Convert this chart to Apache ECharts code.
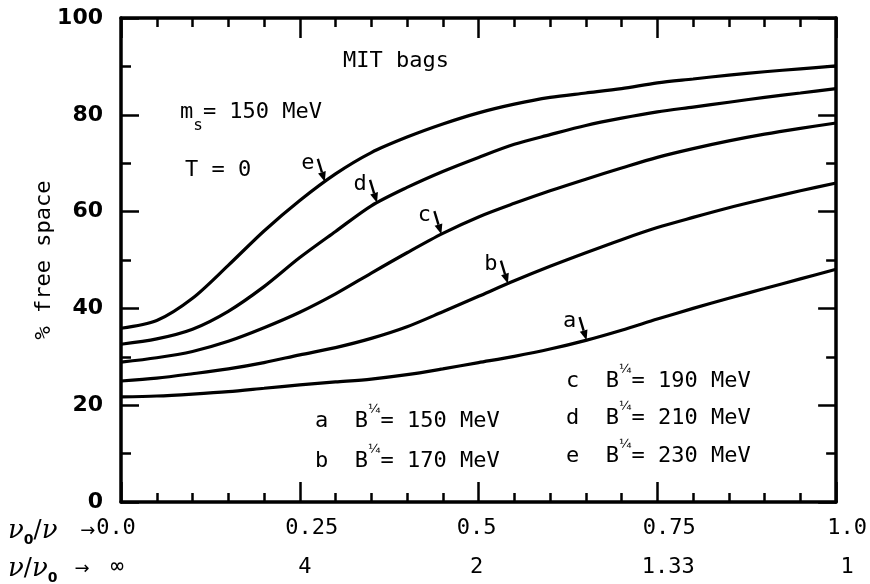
<!DOCTYPE html>
<html>
<head>
<meta charset="utf-8">
<script src="https://cdn.jsdelivr.net/npm/echarts@6/dist/echarts.min.js"></script>
<style>
  html, body { margin: 0; padding: 0; background: #fff; }
  #chart { width: 870px; height: 584px; }
</style>
</head>
<body>
<div id="chart"></div>
<script>
// nu0/nu sampled from 0 to 1
const ratio = [0, 0.05, 0.1, 0.15, 0.2, 0.25, 0.3, 0.35, 0.4, 0.45, 0.5,
               0.55, 0.6, 0.65, 0.7, 0.75, 0.8, 0.85, 0.9, 0.95, 1.0];

// % free space for MIT bags, B^1/4 = 150 .. 230 MeV
const bagA = [21.7, 21.9, 22.3, 22.8, 23.5, 24.2, 24.8, 25.4, 26.3, 27.5, 28.8,
              30.1, 31.6, 33.4, 35.5, 37.8, 40.0, 42.1, 44.1, 46.1, 48.1];
const bagB = [25.0, 25.6, 26.5, 27.5, 28.8, 30.4, 31.9, 33.8, 36.2, 39.3, 42.5,
              45.7, 48.7, 51.5, 54.2, 56.7, 58.8, 60.8, 62.6, 64.3, 65.9];
const bagC = [28.9, 29.8, 31.1, 33.2, 36.0, 39.2, 43.0, 47.3, 51.5, 55.5, 58.9,
              61.7, 64.3, 66.7, 69.0, 71.2, 73.0, 74.6, 76.0, 77.2, 78.3];
const bagD = [32.6, 33.7, 35.7, 39.4, 44.5, 50.5, 55.9, 61.2, 65.0, 68.3, 71.2,
              73.9, 75.9, 77.8, 79.3, 80.6, 81.6, 82.6, 83.6, 84.5, 85.4];
const bagE = [35.9, 37.5, 42.1, 48.9, 56.0, 62.3, 67.8, 72.2, 75.4, 78.1, 80.4,
              82.2, 83.6, 84.5, 85.4, 86.6, 87.4, 88.2, 88.9, 89.5, 90.1];

const curveTags = ['a', 'b', 'c', 'd', 'e'];
const bagConstants = ['150', '170', '190', '210', '230'];
// where each tag arrow touches its curve (nu0/nu)
const tagRatio = [0.651, 0.541, 0.448, 0.358, 0.285];

// bottom axis labels: nu0/nu and nu/nu0
const ratioTicks = [0, 0.25, 0.5, 0.75, 1.0];
const ratioTickLabels = ['0.0', '0.25', '0.5', '0.75', '1.0'];
const inverseTickLabels = ['\u221e', '4', '2', '1.33', '1'];

const curves = [bagA, bagB, bagC, bagD, bagE];

const MONO = '"DejaVu Sans Mono", monospace';
const INK = '#000';

// horizontal nudges of the typed tick labels (px)
const row1Shift = [-5, 12, -2, 12, 11];
const row2Shift = [-4, 5, -2, 11, 11];

function padFor(s) { return s >= 0 ? [0, 0, 0, 2 * s] : [0, -2 * s, 0, 0]; }

const axisRich = {};
ratioTicks.forEach((t, i) => {
  axisRich['p' + i] = { fontFamily: MONO, fontSize: 22, color: INK, lineHeight: 39, padding: padFor(row1Shift[i]) };
  axisRich['q' + i] = { fontFamily: MONO, fontSize: 22, color: INK, lineHeight: 39, padding: padFor(row2Shift[i]) };
});

function tipValue(k) {
  const x = tagRatio[k];
  const ys = curves[k];
  let i = 0;
  while (i < ratio.length - 2 && ratio[i + 1] < x) i++;
  const f = (x - ratio[i]) / (ratio[i + 1] - ratio[i]);
  return ys[i] + f * (ys[i + 1] - ys[i]);
}

const tickLine = { color: INK, width: 2.5 };
const frameLine = { color: INK, width: 3.5 };

function xAxisDef(pos, withLabels) {
  return {
    type: 'value', position: pos, min: 0, max: 1, interval: 0.25,
    axisLine: { show: true, onZero: false, lineStyle: frameLine },
    axisTick: { show: true, inside: true, length: 20, lineStyle: tickLine },
    minorTick: { show: true, splitNumber: 5, length: 9, lineStyle: tickLine },
    splitLine: { show: false }, minorSplitLine: { show: false },
    axisLabel: withLabels ? {
      show: true, margin: 7, verticalAlign: 'top',
      formatter: function (v) {
        const i = ratioTicks.findIndex(t => Math.abs(t - v) < 1e-6);
        if (i < 0) return '';
        return '{p' + i + '|' + ratioTickLabels[i] + '}\n{q' + i + '|' + inverseTickLabels[i] + '}';
      },
      rich: axisRich
    } : { show: false }
  };
}

function yAxisDef(pos, withLabels) {
  const ax = {
    type: 'value', position: pos, min: 0, max: 100, interval: 20,
    axisLine: { show: true, onZero: false, lineStyle: frameLine },
    axisTick: { show: true, inside: true, length: 18, lineStyle: tickLine },
    minorTick: { show: true, splitNumber: 2, length: 10, lineStyle: tickLine },
    splitLine: { show: false }, minorSplitLine: { show: false },
    axisLabel: withLabels ? {
      show: true, margin: 18, color: INK,
      fontFamily: '"DejaVu Sans", sans-serif', fontWeight: 'bold', fontSize: 22
    } : { show: false }
  };
  if (withLabels) {
    ax.name = '% free space';
    ax.nameLocation = 'middle';
    ax.nameRotate = 90;
    ax.nameGap = 66;
    ax.nameMoveOverlap = false;
    ax.nameTextStyle = { fontFamily: MONO, fontSize: 22, color: INK };
  }
  return ax;
}

const lineSeries = curves.map((ys, k) => ({
  type: 'line',
  name: curveTags[k],
  data: ratio.map((x, i) => [x, ys[i]]),
  smooth: 0.3,
  showSymbol: false,
  silent: true,
  lineStyle: { color: INK, width: 3.2 },
  z: 3
}));

const tagSeries = {
  type: 'custom',
  coordinateSystem: 'cartesian2d',
  silent: true,
  z: 4,
  data: curveTags.map((t, k) => [tagRatio[k], tipValue(k)]),
  renderItem: function (params, api) {
    const tip = api.coord([api.value(0), api.value(1)]);
    const tail = [tip[0] - 7, tip[1] - 23];
    const ang = Math.atan2(tip[1] - tail[1], tip[0] - tail[0]);
    const hl = 10, hw = 4;
    const bx = tip[0] - hl * Math.cos(ang), by = tip[1] - hl * Math.sin(ang);
    const nx = -Math.sin(ang), ny = Math.cos(ang);
    return {
      type: 'group',
      children: [
        { type: 'line', shape: { x1: tail[0], y1: tail[1], x2: bx, y2: by },
          style: { stroke: INK, lineWidth: 2.4 } },
        { type: 'polygon',
          shape: { points: [[tip[0], tip[1]], [bx + nx * hw, by + ny * hw], [bx - nx * hw, by - ny * hw]] },
          style: { fill: INK } },
        { type: 'text', x: tail[0] - 10, y: tail[1] + 4,
          style: { text: curveTags[params.dataIndex], fill: INK, font: '22px ' + MONO,
                   align: 'center', verticalAlign: 'middle',
                   textAlign: 'center', textVerticalAlign: 'middle' } }
      ]
    };
  }
};

// rich text pieces for the annotations
const noteRich = {
  t: { fontFamily: MONO, fontSize: 22, lineHeight: 36, fill: INK, verticalAlign: 'middle' },
  tm: { fontFamily: MONO, fontSize: 22, lineHeight: 44, fill: INK, verticalAlign: 'middle' },
  sub: { fontFamily: MONO, fontSize: 16, fill: INK, verticalAlign: 'bottom' },
  sup: { fontFamily: '"DejaVu Sans", sans-serif', fontSize: 13, fill: INK, verticalAlign: 'top' },
  nu: { fontFamily: '"DejaVu Serif", serif', fontStyle: 'italic', fontSize: 26, lineHeight: 32, fill: INK, verticalAlign: 'middle' },
  nsub: { fontFamily: '"DejaVu Sans", sans-serif', fontWeight: 'bold', fontSize: 14, fill: INK, verticalAlign: 'bottom' },
  sl: { fontFamily: '"DejaVu Sans", sans-serif', fontSize: 24, lineHeight: 32, fill: INK, verticalAlign: 'middle' },
  ar: { fontFamily: '"DejaVu Sans", sans-serif', fontSize: 18, lineHeight: 32, fill: INK, verticalAlign: 'middle' }
};

function note(x, y, text) {
  return {
    type: 'text', x: x, y: y, silent: true, z: 10,
    style: { text: text, rich: noteRich, fill: INK, font: '22px ' + MONO,
             align: 'left', verticalAlign: 'middle',
             textAlign: 'left', textVerticalAlign: 'middle' }
  };
}

function bagLine(k) {
  return '{t|' + curveTags[k] + '  B}{sup|\u00bc}{t|= ' + bagConstants[k] + ' MeV}';
}

const notes = [
  note(343, 61, '{t|MIT bags}'),
  note(180, 112, '{tm|m}{sub|s}{tm|= 150 MeV}'),
  note(185, 170, '{t|T = 0}'),
  note(315, 421, bagLine(0)),
  note(315, 461, bagLine(1)),
  note(566, 381, bagLine(2)),
  note(566, 418, bagLine(3)),
  note(566, 456, bagLine(4)),
  note(8, 531, '{nu|\u03bd}{nsub|0}{sl|/}{nu|\u03bd}{ar|    \u2192}'),
  note(8, 569, '{nu|\u03bd}{sl|/}{nu|\u03bd}{nsub|0}{ar|   \u2192}')
];

const chart = echarts.init(document.getElementById('chart'), null, { renderer: 'canvas' });
chart.setOption({
  backgroundColor: '#fff',
  animation: false,
  grid: { left: 121, right: 32, top: 18, bottom: 82, containLabel: false },
  xAxis: [xAxisDef('bottom', true), xAxisDef('top', false)],
  yAxis: [yAxisDef('left', true), yAxisDef('right', false)],
  series: lineSeries.concat([tagSeries]),
  graphic: notes
});
</script>
</body>
</html>
